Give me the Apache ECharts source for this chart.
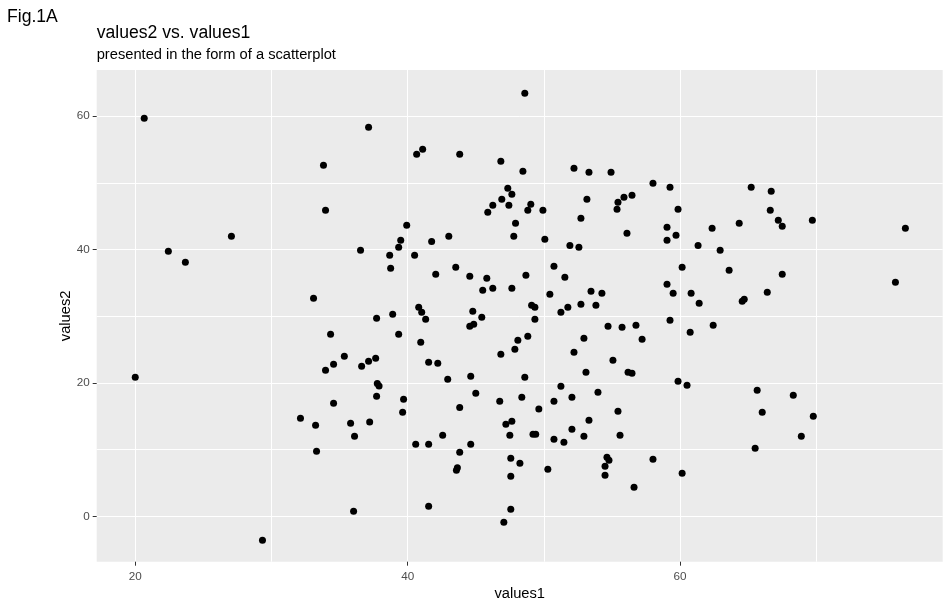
<!DOCTYPE html>
<html>
<head>
<meta charset="utf-8">
<script src="https://cdn.jsdelivr.net/npm/echarts@6/dist/echarts.min.js"></script>
<style>
html,body{margin:0;padding:0;background:#fff;}
#chart{width:950px;height:608px;}
</style>
</head>
<body>
<div id="chart"></div>
<script>
// ---- data ----
const values1 = [
20.66,37.13,33.82,33.97,27.06,48.6,40.66,41.1,43.82,46.84,
48.46,52.21,53.31,54.93,58.01,47.35,47.65,46.91,46.25,47.43,
49.04,48.82,45.88,49.93,53.16,52.72,55.44,55.88,56.47,55.37,
39.93,47.92,47.79,43.02,39.49,41.76,50.07,56.1,59.26,65.22,
66.69,59.85,66.62,67.21,67.5,69.71,76.54,64.34,62.35,59.04,
59.7,59.04,22.43,23.68,36.54,33.09,37.72,34.34,35.35,34.56,
33.97,36.62,37.13,37.65,20.0,34.56,37.72,37.77,37.9,39.34,
38.68,40.51,38.75,43.53,42.06,44.56,45.81,45.51,46.25,47.65,
48.68,50.74,51.54,50.44,51.91,52.57,53.46,54.26,52.72,53.82,
51.76,51.25,49.1,49.34,49.34,40.81,41.03,41.32,38.9,44.78,
45.44,44.56,44.85,39.34,40.96,41.54,42.21,42.94,44.63,46.84,
47.87,48.09,48.82,48.6,45.0,46.76,48.38,49.63,43.82,39.7,
54.71,55.74,56.76,57.21,52.94,52.21,55.07,53.09,56.18,56.47,
51.25,52.06,50.74,53.97,61.32,62.94,60.15,63.6,67.5,75.81,
59.04,59.49,60.81,61.4,64.56,64.71,66.4,59.26,62.43,60.74,
59.85,60.51,65.66,68.31,32.13,33.24,35.81,37.21,36.1,33.31,
36.03,29.34,39.63,47.21,47.65,47.5,42.57,40.59,41.54,44.63,
43.82,43.65,43.58,47.57,48.24,47.57,50.29,47.57,47.06,41.54,
49.2,49.4,50.74,51.47,52.06,53.31,52.94,55.44,55.59,54.63,
54.78,54.49,54.49,56.62,58.01,66.03,69.78,68.9,65.51,60.15
];
const values2 = [
59.7,58.35,52.65,45.9,42.0,63.45,54.3,55.05,54.3,53.25,
51.75,52.2,51.6,51.6,49.95,49.2,48.3,47.55,46.65,46.65,
46.8,45.9,45.6,45.9,47.55,44.7,47.1,47.85,48.15,46.05,
43.65,43.95,42.0,42.0,41.4,41.2,41.55,42.45,49.35,49.35,
48.75,46.05,45.9,44.4,43.5,44.4,43.2,43.95,43.2,43.35,
42.15,41.4,39.75,38.1,39.9,32.7,29.7,27.3,24.0,22.8,
21.9,22.5,23.25,23.7,20.85,16.95,18.0,19.9,19.55,40.35,
39.15,39.15,37.2,37.35,36.3,36.0,35.7,33.9,34.2,34.2,
36.15,37.5,35.85,33.3,40.6,40.35,33.75,33.45,31.8,31.65,
31.35,30.6,31.65,31.35,29.55,31.35,30.6,29.55,30.3,30.75,
29.85,28.5,28.8,27.3,26.1,23.1,22.95,20.55,21.0,24.3,
25.05,26.4,27.0,20.85,18.45,17.25,17.85,16.1,16.3,17.55,
28.5,28.35,28.65,26.55,26.7,24.6,23.4,21.6,21.6,21.45,
19.5,17.85,17.25,18.6,40.6,39.9,37.35,36.9,36.3,35.1,
34.8,33.45,33.45,31.95,32.25,32.55,33.6,29.4,28.65,27.6,
20.25,19.65,18.9,18.15,14.7,13.65,13.95,14.15,12.0,9.75,
0.75,-3.6,15.6,13.8,14.25,12.15,12.15,10.8,10.8,10.8,
9.6,7.3,6.9,8.7,7.95,6.0,7.05,1.05,-0.9,1.5,
12.3,12.3,11.55,11.1,13.05,14.4,12.0,15.75,12.15,8.85,
8.4,7.5,6.15,4.35,8.55,15.6,15.0,12.0,10.2,6.45
];
const xTickLabels = [20, 40, 60];
const yTickLabels = [0, 20, 40, 60];
const xMinorBreaks = [30, 50, 70];
const yMinorBreaks = [10, 30, 50];

// ---- layout / styles ----
const X_MIN = 17.17, X_MAX = 79.28;
const Y_MIN = -6.81, Y_MAX = 66.94;
const FONT = 'Liberation Sans, Arial, sans-serif';

const points = values1.map((v, i) => [v, values2[i]]);

function minorAxis(breaks, pos) {
  return {
    type:'value', min: pos === 'bottom' ? X_MIN : Y_MIN, max: pos === 'bottom' ? X_MAX : Y_MAX,
    position: pos, show:true, z:0,
    axisLine:{show:false, onZero:false},
    axisTick:{show:false, customValues:breaks},
    axisLabel:{show:false, customValues:breaks},
    splitLine:{show:true, lineStyle:{color:'#FFFFFF', width:1}}
  };
}

const chart = echarts.init(document.getElementById('chart'), null, {renderer:'canvas'});
chart.setOption({
  animation:false,
  backgroundColor:'#FFFFFF',
  title:[
    {text:'Fig.1A', left:7, top:8.3, padding:0,
     textStyle:{fontFamily:FONT, fontSize:17.6, fontWeight:'normal', color:'#000'}},
    {text:'values2 vs. values1', left:96.7, top:24, padding:0,
     textStyle:{fontFamily:FONT, fontSize:17.6, fontWeight:'normal', color:'#000'}},
    {text:'presented in the form of a scatterplot', left:96.7, top:47.5, padding:0,
     textStyle:{fontFamily:FONT, fontSize:14.7, fontWeight:'normal', color:'#000'}}
  ],
  grid:{left:96.7, right:7.3, top:70, bottom:46.3, show:true, backgroundColor:'#EBEBEB',
        borderWidth:0, containLabel:false},
  xAxis:[{
    type:'value', min:X_MIN, max:X_MAX, position:'bottom',
    name:'values1', nameLocation:'middle', nameGap:25, nameMoveOverlap:false,
    nameTextStyle:{fontFamily:FONT, fontSize:14.7, color:'#000'},
    axisLine:{show:false, onZero:false},
    splitLine:{show:true, lineStyle:{color:'#FFFFFF', width:1}},
    axisTick:{show:true, customValues:xTickLabels, length:4, lineStyle:{color:'#333333', width:1}},
    axisLabel:{customValues:xTickLabels, fontFamily:FONT, fontSize:11.7, color:'#4D4D4D', margin:9.5}
  }, minorAxis(xMinorBreaks, 'bottom')],
  yAxis:[{
    type:'value', min:Y_MIN, max:Y_MAX, position:'left',
    name:'values2', nameLocation:'middle', nameGap:23, nameMoveOverlap:false,
    nameTextStyle:{fontFamily:FONT, fontSize:14.7, color:'#000'},
    axisLine:{show:false, onZero:false},
    splitLine:{show:true, lineStyle:{color:'#FFFFFF', width:1}},
    axisTick:{show:true, customValues:yTickLabels, length:4, lineStyle:{color:'#333333', width:1}},
    axisLabel:{customValues:yTickLabels, fontFamily:FONT, fontSize:11.7, color:'#4D4D4D', margin:7}
  }, minorAxis(yMinorBreaks, 'left')],
  series: [{
    type:'scatter', data:points, xAxisIndex:0, yAxisIndex:0,
    symbol:'circle', symbolSize:7, z:3,
    itemStyle:{color:'#000000', opacity:1}, animation:false, silent:true
  }]
});
</script>
</body>
</html>
